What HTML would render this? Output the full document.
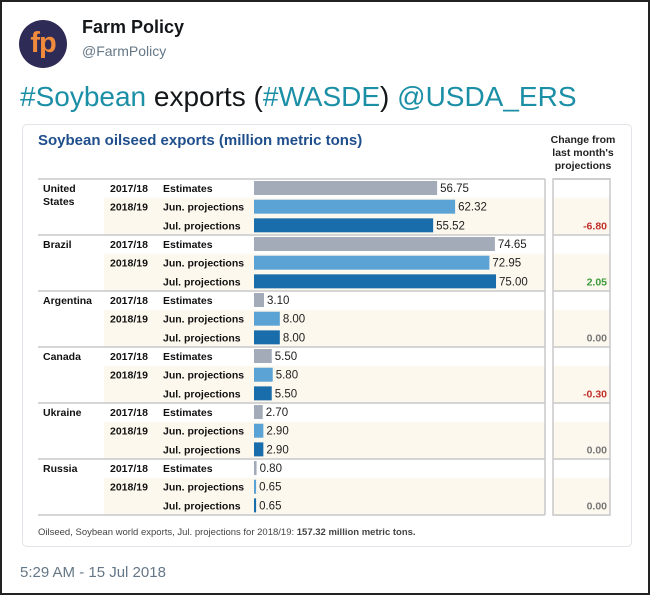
<!DOCTYPE html>
<html><head><meta charset="utf-8"><style>
body{margin:0;width:650px;height:595px;background:#fff;font-family:"Liberation Sans",Arial,sans-serif;overflow:hidden}
#frame{position:absolute;left:0;top:0;width:646px;height:591px;border:2px solid #222}
.abs{position:absolute;white-space:nowrap}
</style></head><body>
<div id="frame"></div>
<div class="abs" style="left:19px;top:20px;width:48px;height:48px;border-radius:50%;background:#2f2b57;color:#f08a3c;font-weight:bold;font-size:29px;line-height:46px;text-align:center;letter-spacing:-1px">fp</div>
<div class="abs" style="left:82px;top:17px;font-size:18px;font-weight:bold;color:#14171a">Farm Policy</div>
<div class="abs" style="left:82px;top:43px;font-size:14px;color:#657786">@FarmPolicy</div>
<div class="abs" style="left:20px;top:81px;font-size:28px;color:#14171a"><span style="color:#1b8fa6">#Soybean</span> exports (<span style="color:#1b8fa6">#WASDE</span>) <span style="color:#1b8fa6">@USDA_ERS</span></div>
<div class="abs" style="left:22px;top:124px;width:608px;height:421px;border:1px solid #e1e4e8;border-radius:5px"></div>
<div class="abs" style="left:38px;top:132px;font-size:15px;font-weight:bold;color:#1f4e8c">Soybean oilseed exports (million metric tons)</div>
<div class="abs" style="left:537px;top:134px;width:92px;text-align:center;font-size:10.5px;font-weight:bold;line-height:13px;color:#222">Change from<br>last month's<br>projections</div>
<svg class="abs" style="left:0;top:0" width="650" height="595" id="svg"></svg>
<div class="abs" style="left:38px;top:527px;font-size:9.5px;color:#444">Oilseed, Soybean world exports, Jul. projections for 2018/19: <b>157.32 million metric tons.</b></div>
<div class="abs" style="left:20px;top:564px;font-size:15px;color:#657786">5:29 AM - 15 Jul 2018</div>
<script>
const countries=["United States","Brazil","Argentina","Canada","Ukraine","Russia"];
const estimates=[56.75,74.65,3.10,5.50,2.70,0.80];
const junProj=[62.32,72.95,8.00,5.80,2.90,0.65];
const julProj=[55.52,75.00,8.00,5.50,2.90,0.65];
const changes=["-6.80","2.05","0.00","-0.30","0.00","0.00"];
const rowLabels=["Estimates","Jun. projections","Jul. projections"];
const years=["2017/18","2018/19",""];
const NS="http://www.w3.org/2000/svg",svg=document.getElementById('svg');
const x0=254,scaleX=v=>Math.max(2,v*3.227);
const top0=179,rowH=18.67;
function el(t,a,txt){const e=document.createElementNS(NS,t);for(const k in a)e.setAttribute(k,a[k]);if(txt!==undefined)e.textContent=txt;svg.appendChild(e);return e;}
const colors=["#a3abb9","#5ba3d4","#1a6dab"];
countries.forEach((c,g)=>{
  const gy=top0+g*3*rowH;
  const bg=el('rect',{x:104,y:gy+rowH,width:441,height:2*rowH,fill:'#fdf8ee'});
  
  const bg2=el('rect',{x:553,y:gy+rowH,width:57,height:2*rowH,fill:'#fdf8ee'});
  
  const ln=el('line',{x1:38,x2:545,y1:gy,y2:gy,stroke:'#c8c8c8','stroke-width':1.5});
  
  const ln2=el('line',{x1:553,x2:610,y1:gy,y2:gy,stroke:'#c8c8c8','stroke-width':1.5});
  
  const parts=c.split(' ');
  parts.forEach((p,i)=>{const t=el('text',{x:43,y:gy+13+i*13,'font-size':10.5,'font-weight':'bold',fill:'#111'},p);
    });
  const vals=[estimates[g],junProj[g],julProj[g]];
  vals.forEach((v,r)=>{
    const ry=gy+r*rowH;
    if(years[r]){const t=el('text',{x:110,y:ry+13,'font-size':10.5,'font-weight':'bold',fill:'#111'},years[r]);
      }
    const t2=el('text',{x:163,y:ry+13,'font-size':10.5,'font-weight':'bold',fill:'#111'},rowLabels[r]);
    
    const w=scaleX(v);
    const b=el('rect',{x:x0,y:ry+2,width:w,height:14,fill:colors[r]});
    
    const vt=el('text',{x:x0+w+3,y:ry+13,'font-size':11.5,fill:'#222'},v.toFixed(2));
    
  });
  const ch=changes[g],col=ch.startsWith('-')?'#c0302b':(ch==='0.00'?'#777':'#3a9a3a');
  const ct=el('text',{x:607,y:gy+2*rowH+13,'font-size':10.5,'font-weight':'bold',fill:col,'text-anchor':'end'},ch);
  
});
const bot=top0+18*rowH;
let l=el('line',{x1:38,x2:545,y1:bot,y2:bot,stroke:'#c8c8c8','stroke-width':1.5});

l=el('line',{x1:545,x2:545,y1:top0,y2:bot,stroke:'#c8c8c8','stroke-width':1.5});

l=el('rect',{x:553,y:top0,width:57,height:bot-top0,fill:'none',stroke:'#c8c8c8','stroke-width':1.5});

</script>
</body></html>
